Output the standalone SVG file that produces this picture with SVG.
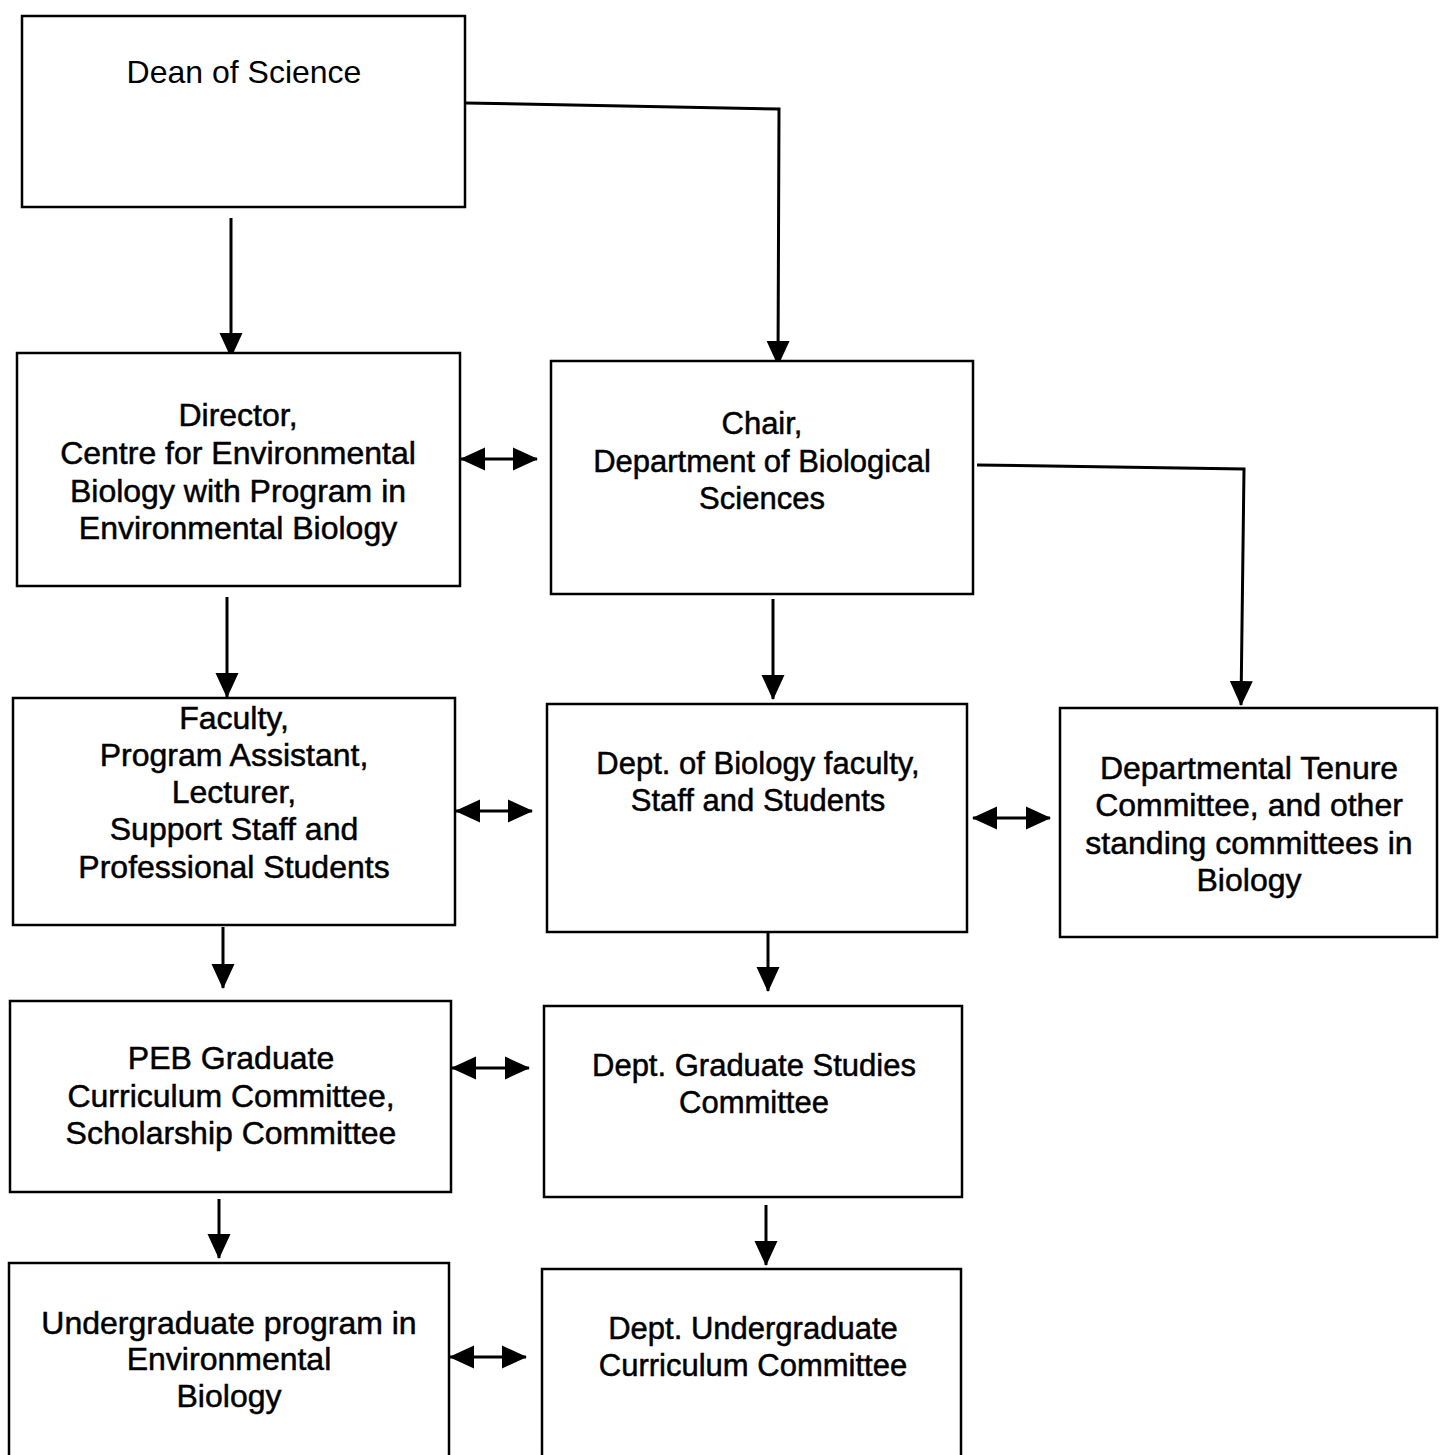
<svg xmlns="http://www.w3.org/2000/svg" width="1442" height="1455" viewBox="0 0 1442 1455">
<style>
.box{fill:#fff;stroke:#000;stroke-width:2.5}
.t{font-family:"Liberation Sans",Arial,sans-serif;font-size:32px;fill:#000;text-anchor:middle;stroke:#000;stroke-width:0.5}
.m{font-size:31px}
.light{stroke-width:0}
.c{fill:none;stroke:#000;stroke-width:3}
</style>
<defs>
<marker id="ah" markerUnits="userSpaceOnUse" markerWidth="26" markerHeight="26" viewBox="0 0 26 26" refX="24" refY="13" orient="auto-start-reverse">
<path d="M0,1.5 L25,13 L0,24.5 Z" fill="#000"/>
</marker>
</defs>
<rect width="1442" height="1455" fill="#fff"/>
<g id="connectors">
<line class="c" x1="231" y1="218" x2="231" y2="357" marker-end="url(#ah)"/>
<polyline class="c" points="465,103 779,109 778,365" marker-end="url(#ah)"/>
<line class="c" x1="461" y1="459" x2="537" y2="459" marker-start="url(#ah)" marker-end="url(#ah)"/>
<line class="c" x1="227" y1="597" x2="227" y2="697" marker-end="url(#ah)"/>
<line class="c" x1="773" y1="599" x2="773" y2="699" marker-end="url(#ah)"/>
<polyline class="c" points="977,465 1244,469 1241,705" marker-end="url(#ah)"/>
<line class="c" x1="456" y1="811" x2="532" y2="811" marker-start="url(#ah)" marker-end="url(#ah)"/>
<line class="c" x1="973" y1="818" x2="1050" y2="818" marker-start="url(#ah)" marker-end="url(#ah)"/>
<line class="c" x1="223" y1="927" x2="223" y2="988" marker-end="url(#ah)"/>
<line class="c" x1="768" y1="931" x2="768" y2="991" marker-end="url(#ah)"/>
<line class="c" x1="452" y1="1068" x2="529" y2="1068" marker-start="url(#ah)" marker-end="url(#ah)"/>
<line class="c" x1="219" y1="1199" x2="219" y2="1258" marker-end="url(#ah)"/>
<line class="c" x1="766" y1="1205" x2="766" y2="1265" marker-end="url(#ah)"/>
<line class="c" x1="450" y1="1357" x2="526" y2="1357" marker-start="url(#ah)" marker-end="url(#ah)"/>
</g>
<g id="dean">
<rect class="box" x="22" y="16" width="443" height="191"/>
<text class="t light" x="244" y="83">Dean of Science</text>
</g>
<g id="director">
<rect class="box" x="17" y="353" width="443" height="233"/>
<text class="t" x="238" y="426">Director,</text>
<text class="t" x="238" y="464">Centre for Environmental</text>
<text class="t" x="238" y="502">Biology with Program in</text>
<text class="t" x="238" y="539">Environmental Biology</text>
</g>
<g id="chair">
<rect class="box" x="551" y="361" width="422" height="233"/>
<text class="t m" x="762" y="434">Chair,</text>
<text class="t m" x="762" y="472">Department of Biological</text>
<text class="t m" x="762" y="509">Sciences</text>
</g>
<g id="faculty">
<rect class="box" x="13" y="698" width="442" height="227"/>
<text class="t" x="234" y="729">Faculty,</text>
<text class="t" x="234" y="766">Program Assistant,</text>
<text class="t" x="234" y="803">Lecturer,</text>
<text class="t" x="234" y="840">Support Staff and</text>
<text class="t" x="234" y="878">Professional Students</text>
</g>
<g id="deptfaculty">
<rect class="box" x="547" y="704" width="420" height="228"/>
<text class="t m" x="758" y="774">Dept. of Biology faculty,</text>
<text class="t m" x="758" y="811">Staff and Students</text>
</g>
<g id="tenure">
<rect class="box" x="1060" y="708" width="377" height="229"/>
<text class="t" x="1249" y="779">Departmental Tenure</text>
<text class="t" x="1249" y="816">Committee, and other</text>
<text class="t" x="1249" y="854">standing committees in</text>
<text class="t" x="1249" y="891">Biology</text>
</g>
<g id="peb">
<rect class="box" x="10" y="1001" width="441" height="191"/>
<text class="t" x="231" y="1069">PEB Graduate</text>
<text class="t" x="231" y="1107">Curriculum Committee,</text>
<text class="t" x="231" y="1144">Scholarship Committee</text>
</g>
<g id="deptgrad">
<rect class="box" x="544" y="1006" width="418" height="191"/>
<text class="t m" x="754" y="1076">Dept. Graduate Studies</text>
<text class="t m" x="754" y="1113">Committee</text>
</g>
<g id="undergrad">
<rect class="box" x="9" y="1263" width="440" height="200"/>
<text class="t" x="229" y="1334">Undergraduate program in</text>
<text class="t" x="229" y="1370">Environmental</text>
<text class="t" x="229" y="1407">Biology</text>
</g>
<g id="deptundergrad">
<rect class="box" x="542" y="1269" width="419" height="194"/>
<text class="t m" x="753" y="1339">Dept. Undergraduate</text>
<text class="t m" x="753" y="1376">Curriculum Committee</text>
</g>
</svg>
